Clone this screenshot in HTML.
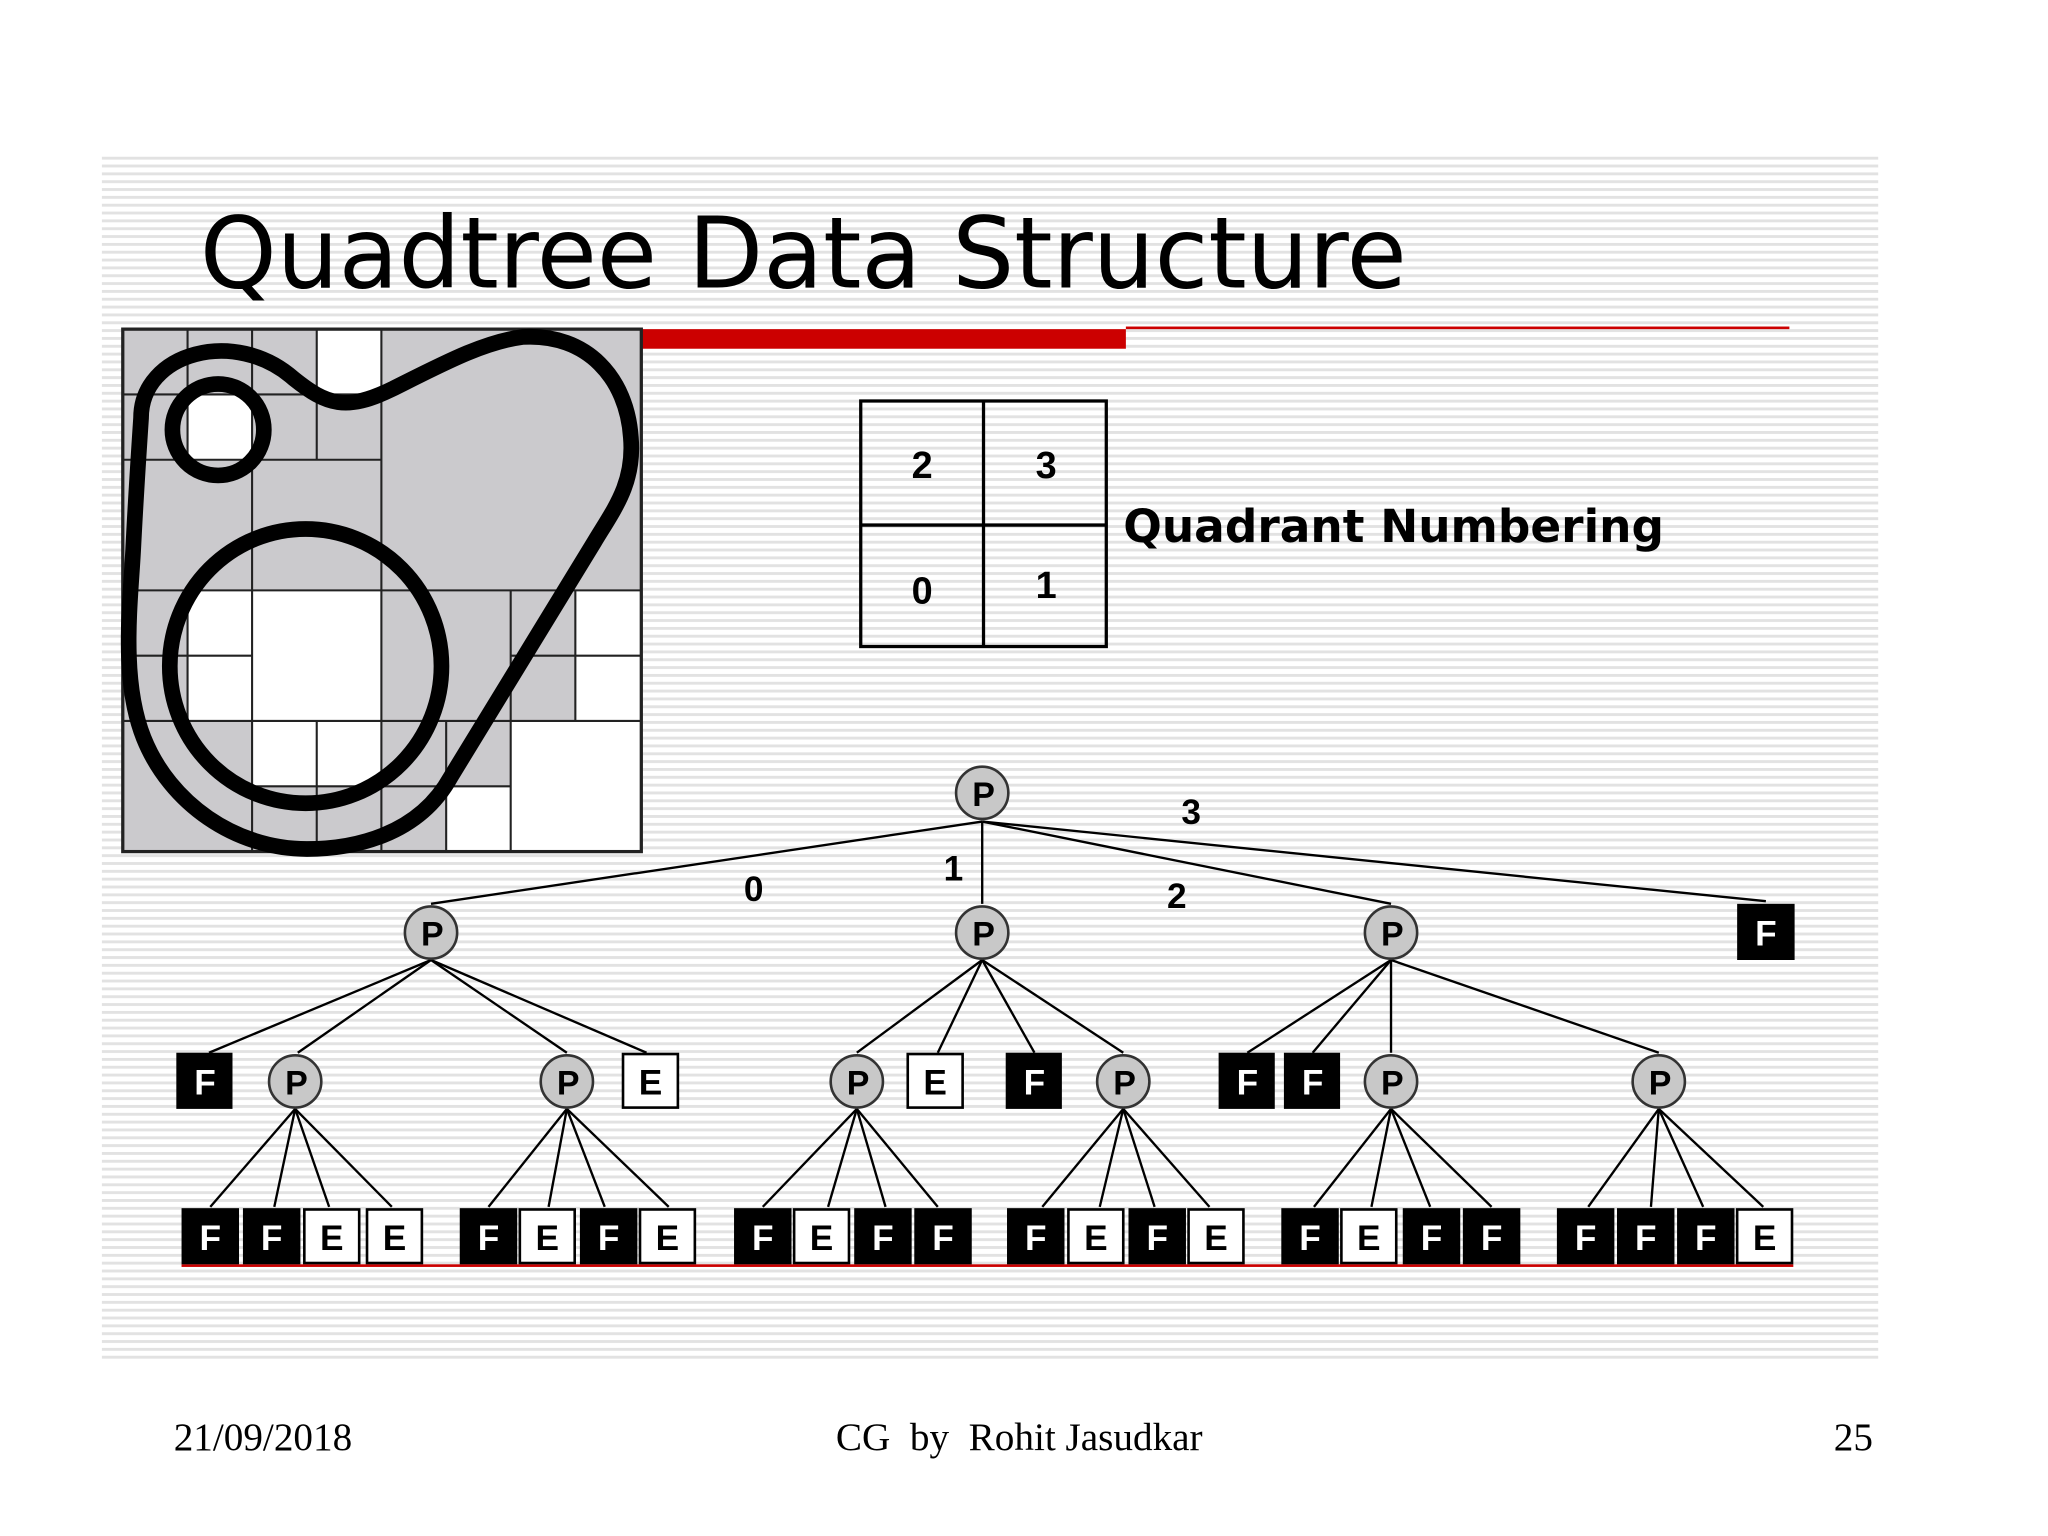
<!DOCTYPE html>
<html><head><meta charset="utf-8"><style>
html,body{margin:0;padding:0;background:#fff;}
svg{display:block;}
.lb{font-family:"Liberation Sans",Arial,sans-serif;font-weight:bold;}
</style></head><body>
<svg width="2048" height="1536" viewBox="0 0 1568 1176" preserveAspectRatio="none" xmlns="http://www.w3.org/2000/svg">
<defs>
<pattern id="st" width="10" height="6" patternUnits="userSpaceOnUse">
<rect width="10" height="6" fill="#ffffff"/>
<rect y="0" width="10" height="2.2" fill="#e2e2e2"/>
</pattern>
</defs>
<rect width="1568" height="1176" fill="#fff"/>
<rect x="78" y="118" width="1360" height="924" fill="url(#st)"/>

<text x="153" y="220" font-family="DejaVu Sans, sans-serif" font-size="76" textLength="924" lengthAdjust="spacingAndGlyphs" fill="#000">Quadtree Data Structure</text>

<rect x="491" y="252" width="371" height="15" fill="#cc0000"/>
<rect x="862" y="250" width="508" height="2" fill="#cc0000"/>

<!-- quadtree image -->
<g>
<rect x="94" y="252" width="397" height="400" fill="#cbcacd"/>
<g fill="#fff">
<rect x="242.5" y="252" width="49.6" height="50"/>
<rect x="143.6" y="302" width="49.6" height="50"/>
<rect x="143.6" y="452" width="49.6" height="100"/>
<rect x="193" y="452" width="99" height="100"/>
<rect x="193" y="552" width="99" height="50"/>
<rect x="440.5" y="452" width="50.5" height="100"/>
<rect x="341.6" y="602" width="49.6" height="50"/>
<rect x="391" y="552" width="100" height="100"/>
</g>
<g stroke="#222" stroke-width="1.6" fill="none">
<rect x="94" y="252" width="397" height="400" stroke-width="2.5"/>
<line x1="292" y1="252" x2="292" y2="652"/>
<line x1="94" y1="452" x2="491" y2="452"/>
<line x1="193" y1="252" x2="193" y2="652"/>
<line x1="94" y1="352" x2="292" y2="352"/>
<line x1="143.6" y1="252" x2="143.6" y2="352"/>
<line x1="242.5" y1="252" x2="242.5" y2="352"/>
<line x1="94" y1="302" x2="292" y2="302"/>
<line x1="94" y1="552" x2="491" y2="552"/>
<line x1="143.6" y1="452" x2="143.6" y2="552"/>
<line x1="94" y1="502" x2="193" y2="502"/>
<line x1="242.5" y1="552" x2="242.5" y2="652"/>
<line x1="193" y1="602" x2="292" y2="602"/>
<line x1="391" y1="452" x2="391" y2="652"/>
<line x1="440.5" y1="452" x2="440.5" y2="552"/>
<line x1="391" y1="502" x2="491" y2="502"/>
<line x1="341.6" y1="552" x2="341.6" y2="652"/>
<line x1="292" y1="602" x2="391" y2="602"/>
</g>
<g stroke="#000" stroke-width="12" fill="none">
<circle cx="167" cy="329" r="35"/>
<ellipse cx="234" cy="510" rx="104" ry="105"/>
<path d="M108,320 C108,270 180,250 225,290 C250,310 265,315 300,298 C340,278 370,262 400,258 C450,255 480,290 483,335 C486,370 470,390 455,415 L345,595 C320,640 270,650 235,650 C180,650 130,615 110,565 C92,520 100,460 102,420 C104,380 106,350 108,320 Z"/>
</g>
</g>

<!-- quadrant numbering -->
<g stroke="#000" stroke-width="2.5" fill="none">
<rect x="659" y="307" width="188" height="188"/>
<line x1="753" y1="307" x2="753" y2="495"/>
<line x1="659" y1="402" x2="847" y2="402"/>
</g>
<g class="lb" font-size="29" text-anchor="middle" fill="#000">
<text x="706" y="366">2</text><text x="801" y="366">3</text>
<text x="706" y="462">0</text><text x="801" y="458">1</text>
</g>
<text x="860" y="415" font-family="DejaVu Sans, sans-serif" font-weight="bold" font-size="35" textLength="414" lengthAdjust="spacingAndGlyphs">Quadrant Numbering</text>

<!-- tree edges -->
<g stroke="#000" stroke-width="1.8" fill="none">
<line x1="752" y1="629" x2="330" y2="692"/>
<line x1="752" y1="629" x2="752" y2="692"/>
<line x1="752" y1="629" x2="1065" y2="692"/>
<line x1="752" y1="629" x2="1352" y2="690"/>
<line x1="330" y1="735" x2="160" y2="806"/>
<line x1="330" y1="735" x2="228" y2="806"/>
<line x1="330" y1="735" x2="434" y2="806"/>
<line x1="330" y1="735" x2="495" y2="806"/>
<line x1="752" y1="735" x2="656" y2="806"/>
<line x1="752" y1="735" x2="718" y2="806"/>
<line x1="752" y1="735" x2="792" y2="806"/>
<line x1="752" y1="735" x2="860" y2="806"/>
<line x1="1065" y1="735" x2="955" y2="806"/>
<line x1="1065" y1="735" x2="1005" y2="806"/>
<line x1="1065" y1="735" x2="1065" y2="806"/>
<line x1="1065" y1="735" x2="1270" y2="806"/>
<!-- level 3 -->
<line x1="226" y1="849" x2="161" y2="924"/><line x1="226" y1="849" x2="210" y2="924"/><line x1="226" y1="849" x2="252" y2="924"/><line x1="226" y1="849" x2="300" y2="924"/>
<line x1="434" y1="849" x2="374" y2="924"/><line x1="434" y1="849" x2="420" y2="924"/><line x1="434" y1="849" x2="463" y2="924"/><line x1="434" y1="849" x2="512" y2="924"/>
<line x1="656" y1="849" x2="584" y2="924"/><line x1="656" y1="849" x2="634" y2="924"/><line x1="656" y1="849" x2="678" y2="924"/><line x1="656" y1="849" x2="718" y2="924"/>
<line x1="860" y1="849" x2="798" y2="924"/><line x1="860" y1="849" x2="842" y2="924"/><line x1="860" y1="849" x2="884" y2="924"/><line x1="860" y1="849" x2="926" y2="924"/>
<line x1="1065" y1="849" x2="1006" y2="924"/><line x1="1065" y1="849" x2="1050" y2="924"/><line x1="1065" y1="849" x2="1095" y2="924"/><line x1="1065" y1="849" x2="1142" y2="924"/>
<line x1="1270" y1="849" x2="1216" y2="924"/><line x1="1270" y1="849" x2="1264" y2="924"/><line x1="1270" y1="849" x2="1304" y2="924"/><line x1="1270" y1="849" x2="1350" y2="924"/>
</g>
<g class="lb" font-size="27" text-anchor="middle">
<text x="577" y="690">0</text><text x="730" y="674">1</text><text x="901" y="695">2</text><text x="912" y="631">3</text>
</g>

<!-- P nodes -->
<g stroke="#333" stroke-width="2" fill="#c8c8c8">
<circle cx="752" cy="607" r="20"/>
<circle cx="330" cy="714" r="20"/><circle cx="752" cy="714" r="20"/><circle cx="1065" cy="714" r="20"/>
<circle cx="226" cy="828" r="20"/><circle cx="434" cy="828" r="20"/><circle cx="656" cy="828" r="20"/><circle cx="860" cy="828" r="20"/><circle cx="1065" cy="828" r="20"/><circle cx="1270" cy="828" r="20"/>
</g>
<g class="lb" font-size="26" text-anchor="middle" fill="#000">
<text x="753" y="617">P</text>
<text x="331" y="724">P</text><text x="753" y="724">P</text><text x="1066" y="724">P</text>
<text x="227" y="838">P</text><text x="435" y="838">P</text><text x="657" y="838">P</text><text x="861" y="838">P</text><text x="1066" y="838">P</text><text x="1271" y="838">P</text>
</g>

<!-- boxes: F black, E white -->
<g id="boxes">
<rect x="139" y="968" width="1234" height="2" fill="#cc0000"/>
</g>
<g fill="#000">
<rect x="1330" y="692" width="44" height="43"/>
<rect x="135" y="806" width="43" height="43"/>
<rect x="770" y="806" width="43" height="43"/>
<rect x="933" y="806" width="43" height="43"/>
<rect x="983" y="806" width="43" height="43"/>
</g>
<g fill="#fff" stroke="#000" stroke-width="2">
<rect x="477" y="807" width="42" height="41"/>
<rect x="695" y="807" width="42" height="41"/>
</g>
<g class="lb" font-size="27" text-anchor="middle">
<text x="1352" y="724" fill="#fff">F</text>
<text x="157" y="838" fill="#fff">F</text>
<text x="792" y="838" fill="#fff">F</text>
<text x="955" y="838" fill="#fff">F</text>
<text x="1005" y="838" fill="#fff">F</text>
<text x="498" y="838" fill="#000">E</text>
<text x="716" y="838" fill="#000">E</text>
</g>

<!-- bottom row -->
<g id="row" class="lb" font-size="27" text-anchor="middle">
</g>
<g>
<!-- generated boxes: x, type -->
<g fill="#000">
<rect x="139" y="925" width="44" height="43"/><rect x="186" y="925" width="44" height="43"/>
<rect x="352" y="925" width="44" height="43"/><rect x="444" y="925" width="44" height="43"/>
<rect x="562" y="925" width="44" height="43"/><rect x="654" y="925" width="44" height="43"/><rect x="700" y="925" width="44" height="43"/>
<rect x="771" y="925" width="44" height="43"/><rect x="864" y="925" width="44" height="43"/>
<rect x="981" y="925" width="44" height="43"/><rect x="1074" y="925" width="44" height="43"/><rect x="1120" y="925" width="44" height="43"/>
<rect x="1192" y="925" width="44" height="43"/><rect x="1238" y="925" width="44" height="43"/><rect x="1284" y="925" width="44" height="43"/>
</g>
<g fill="#fff" stroke="#000" stroke-width="2">
<rect x="233" y="926" width="42" height="41"/><rect x="281" y="926" width="42" height="41"/>
<rect x="398" y="926" width="42" height="41"/><rect x="490" y="926" width="42" height="41"/>
<rect x="608" y="926" width="42" height="41"/>
<rect x="818" y="926" width="42" height="41"/><rect x="910" y="926" width="42" height="41"/>
<rect x="1027" y="926" width="42" height="41"/>
<rect x="1330" y="926" width="42" height="41"/>
</g>
<g class="lb" font-size="27" text-anchor="middle" fill="#fff">
<text x="161" y="957">F</text><text x="208" y="957">F</text>
<text x="374" y="957">F</text><text x="466" y="957">F</text>
<text x="584" y="957">F</text><text x="676" y="957">F</text><text x="722" y="957">F</text>
<text x="793" y="957">F</text><text x="886" y="957">F</text>
<text x="1003" y="957">F</text><text x="1096" y="957">F</text><text x="1142" y="957">F</text>
<text x="1214" y="957">F</text><text x="1260" y="957">F</text><text x="1306" y="957">F</text>
</g>
<g class="lb" font-size="27" text-anchor="middle" fill="#000">
<text x="254" y="957">E</text><text x="302" y="957">E</text>
<text x="419" y="957">E</text><text x="511" y="957">E</text>
<text x="629" y="957">E</text>
<text x="839" y="957">E</text><text x="931" y="957">E</text>
<text x="1048" y="957">E</text>
<text x="1351" y="957">E</text>
</g>
</g>

<!-- footer -->
<g font-family="Liberation Serif, serif" font-size="30" fill="#000">
<text x="133" y="1110">21/09/2018</text>
<text x="640" y="1110" xml:space="preserve">CG  by  Rohit Jasudkar</text>
<text x="1404" y="1110">25</text>
</g>
</svg>
</body></html>
